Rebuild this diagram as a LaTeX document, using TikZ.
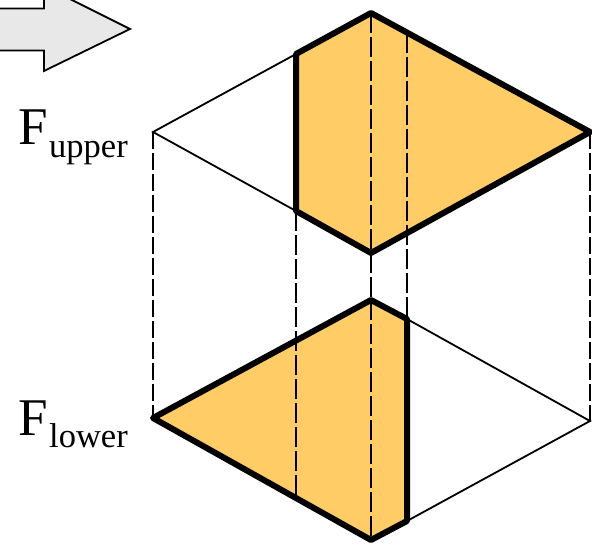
\documentclass[tikz,border=0pt]{standalone}
\usepackage{fontspec}
\setmainfont{Liberation Serif}
\definecolor{facefill}{RGB}{255,204,102}
\definecolor{arrowfill}{RGB}{232,232,232}
\tikzset{
  thinedge/.style={line width=1.8pt,line join=miter},
  thickedge/.style={line width=6pt,line join=round,line cap=round},
  facearea/.style={fill=facefill,draw=none},
  guideA/.style={line width=1.9pt,dash pattern=on 17pt off 4pt},
  guideB/.style={line width=1.1pt,dash pattern=on 20pt off 4pt},
  guideC/.style={line width=1.6pt,dash pattern=on 20pt off 4pt},
  bigletter/.style={anchor=base west,inner sep=0pt,font=\fontsize{53}{53}\selectfont},
  subletter/.style={anchor=base west,inner sep=0pt,font=\fontsize{34.5}{34.5}\selectfont},
}
\begin{document}
\begin{tikzpicture}[x=1pt,y=-1pt]
\useasboundingbox (0,0) rectangle (592,548);
% upper rhombus
\coordinate (UL) at (153,132);
\coordinate (UT) at (371,13);
\coordinate (UR) at (590,132);
\coordinate (UB) at (371,253);
\coordinate (UaT) at (296,54);
\coordinate (UaB) at (296,211);
\coordinate (UbT) at (407,33);
\coordinate (UbB) at (407,233);
% lower rhombus
\coordinate (LL) at (153,418);
\coordinate (LT) at (371,300);
\coordinate (LR) at (590,421);
\coordinate (LB) at (371,540);
\coordinate (LaT) at (296,341);
\coordinate (LaB) at (296,498);
\coordinate (LbT) at (407,319);
\coordinate (LbB) at (407,521);
% arrow
\filldraw[fill=arrowfill,draw=black,line width=1.8pt,line join=miter]
  (-5,8.5) -- (44,8.5) -- (44,-14) -- (130,29) -- (44,71) -- (44,50.5) -- (-5,50.5) -- cycle;
% faces
\fill[facearea] (UaT) -- (UT) -- (UR) -- (UB) -- (UaB) -- cycle;
\fill[facearea] (LL) -- (LT) -- (LbT) -- (LbB) -- (LB) -- cycle;
% thin edges
\draw[thinedge] (UaT) -- (UL) -- (UaB);
\draw[thinedge] (LbT) -- (LR) -- (LbB);
% guides
\draw[guideA] (UL) -- (LL);
\draw[guideA] (UR) -- (LR);
\draw[guideC] (UT) -- (UB);
\draw[guideC] (UbT) -- (LbT);
\draw[guideC] (UB) -- (LT);
\draw[guideB] (UaB) -- (LaB);
\draw[guideB] (LT) -- (LB);
% thick edges
\draw[thickedge] (UaB) -- (UaT) -- (UT) -- (UR) -- (UB) -- cycle;
\draw[thickedge] (LL) -- (LT) -- (LbT) -- (LbB) -- (LB) -- cycle;
% labels
\node[bigletter] (fu) at (18,145) {F};
\node[subletter] (fus) at (49,158) {upper};
\node[bigletter] (fl) at (18,435) {F};
\node[subletter] (fls) at (49,447) {lower};
\end{tikzpicture}
\end{document}
